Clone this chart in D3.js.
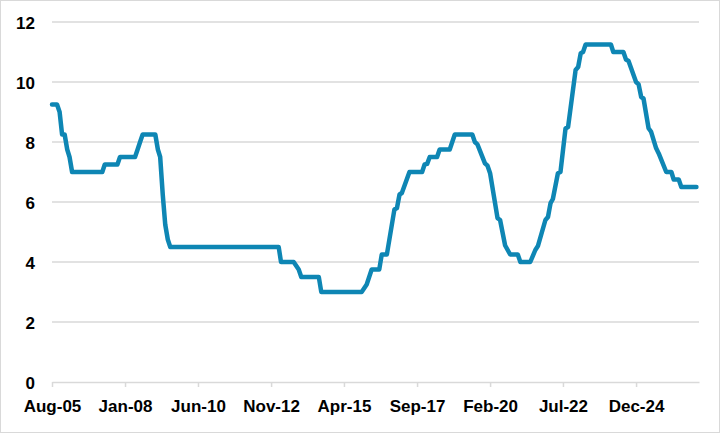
<!DOCTYPE html>
<html>
<head>
<meta charset="utf-8">
<script src="https://cdn.jsdelivr.net/npm/d3@7"></script>
<style>
  body { margin: 0; background: #fff; }
  svg { display: block; font-family: Lato, 'Open Sans', sans-serif; }
  .axis text { font-size: 17px; font-weight: bold; fill: #000; }
</style>
</head>
<body>
<svg></svg>
<script>
const W = 721, H = 434;
const margin = { top: 22, right: 22, bottom: 52, left: 52 };
const w = W - margin.left - margin.right;
const h = H - margin.top - margin.bottom;

// vertices of the policy-rate line (month, %)
const months = [
  '2005-08','2005-10','2005-11','2005-12','2006-01','2006-02','2006-03','2006-04',
  '2007-04','2007-05','2007-10','2007-11','2008-05','2008-06','2008-07','2008-08',
  '2009-01','2009-02','2009-03','2009-04','2009-05','2009-06','2009-07',
  '2013-02','2013-03','2013-08','2013-10','2013-11','2014-06','2014-07',
  '2015-11','2016-01','2016-03','2016-06','2016-07','2016-09','2016-12','2017-01',
  '2017-02','2017-03','2017-06','2017-11','2017-12','2018-01','2018-02','2018-05',
  '2018-06','2018-10','2018-12','2019-07','2019-08','2019-09','2019-12','2020-01',
  '2020-02','2020-05','2020-06','2020-08','2020-10','2021-01','2021-02','2021-06',
  '2021-08','2021-09','2021-12','2022-01','2022-02','2022-03','2022-05','2022-06',
  '2022-08','2022-09','2022-12','2023-01','2023-02','2023-03','2023-04','2024-02',
  '2024-03','2024-07','2024-08','2024-09','2024-12','2025-01','2025-02','2025-03',
  '2025-05','2025-06','2025-08','2025-09','2025-12','2026-02','2026-03','2026-05',
  '2026-06','2026-12'
];
const rate = [
  9.25, 9.25, 9.0, 8.25, 8.25, 7.75, 7.5, 7.0,
  7.0, 7.25, 7.25, 7.5, 7.5, 7.75, 8.0, 8.25,
  8.25, 7.75, 7.5, 6.25, 5.25, 4.75, 4.5,
  4.5, 4.0, 4.0, 3.75, 3.5, 3.5, 3.0,
  3.0, 3.25, 3.75, 3.75, 4.25, 4.25, 5.75, 5.8,
  6.25, 6.3, 7.0, 7.0, 7.25, 7.27, 7.5, 7.5,
  7.75, 7.75, 8.25, 8.25, 8.0, 7.92, 7.29, 7.21,
  6.96, 5.46, 5.4, 4.55, 4.25, 4.25, 4.0, 4.0,
  4.4, 4.53, 5.4, 5.5, 5.96, 6.1, 6.96, 7.0,
  8.45, 8.5, 10.4, 10.5, 10.96, 11.0, 11.25, 11.25,
  11.0, 11.0, 10.75, 10.7, 10.0, 9.92, 9.5, 9.45,
  8.46, 8.34, 7.79, 7.62, 7.0, 7.0, 6.75, 6.75,
  6.5, 6.5
];
const tickMonths = ['2005-08','2008-01','2010-06','2012-11','2015-04','2017-09','2020-02','2022-07','2024-12'];
const yTicks = [0, 2, 4, 6, 8, 10, 12];

const parse = d3.timeParse('%Y-%m');
const data = months.map((m, i) => ({ date: parse(m), value: rate[i] }));

const svg = d3.select('svg').attr('width', W).attr('height', H);

svg.append('rect')
  .attr('x', 0.5).attr('y', 0.5)
  .attr('width', W - 2).attr('height', H - 2)
  .attr('fill', '#fff').attr('stroke', '#d9d9d9');

const g = svg.append('g').attr('transform', `translate(${margin.left}, ${margin.top})`);

const xScale = d3.scaleTime()
  .domain([parse('2005-08'), parse('2027-01')])
  .range([0, w]);

const yScale = d3.scaleLinear()
  .domain([0, 12])
  .range([h, 0]);

// gridlines
g.append('g')
  .selectAll('line')
  .data(yTicks.filter(d => d > 0))
  .enter()
  .append('line')
  .attr('x1', 0).attr('x2', w)
  .attr('y1', d => yScale(d)).attr('y2', d => yScale(d))
  .attr('stroke', '#d9d9d9')
  .attr('stroke-width', 1.5);

// y axis (labels only)
const yAxis = d3.axisLeft(yScale).tickValues(yTicks).tickSize(0).tickPadding(17);
g.append('g')
  .attr('class', 'axis')
  .call(yAxis)
  .call(s => s.select('.domain').remove())
  .selectAll('text')
  .attr('dy', '0.36em');

// x axis
const xAxis = d3.axisBottom(xScale)
  .tickValues(tickMonths.map(parse))
  .tickFormat(d3.timeFormat('%b-%y'))
  .tickSizeInner(5)
  .tickSizeOuter(0);
const xg = g.append('g')
  .attr('class', 'axis')
  .attr('transform', `translate(0, ${h})`)
  .call(xAxis);
xg.select('.domain').attr('stroke', '#d9d9d9').attr('stroke-width', 1.5);
xg.selectAll('.tick line').attr('stroke', '#d9d9d9').attr('stroke-width', 1.5);
xg.selectAll('.tick text').attr('y', 30).attr('dy', 0);

// line
const line = d3.line()
  .x(d => xScale(d.date))
  .y(d => yScale(d.value));

g.append('path')
  .datum(data)
  .attr('fill', 'none')
  .attr('stroke', '#0e86b4')
  .attr('stroke-width', 4.5)
  .attr('stroke-linejoin', 'round')
  .attr('stroke-linecap', 'round')
  .attr('d', line);
</script>
</body>
</html>
